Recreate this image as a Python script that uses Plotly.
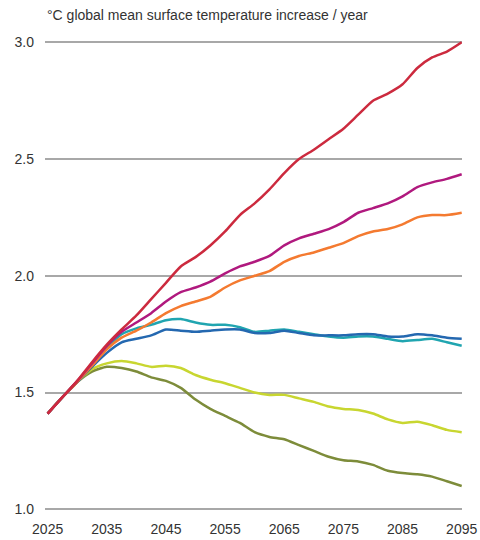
import plotly.graph_objects as go

# years sampled every 2.5 years
years = [2025 + 2.5 * i for i in range(29)]

red = [1.41, 1.48, 1.55, 1.63, 1.705, 1.77, 1.83, 1.90, 1.97, 2.04, 2.08, 2.13, 2.19, 2.26, 2.31,
       2.37, 2.44, 2.50, 2.54, 2.585, 2.63, 2.69, 2.75, 2.78, 2.82, 2.89, 2.935, 2.96, 3.0]
magenta = [1.41, 1.48, 1.55, 1.625, 1.70, 1.76, 1.80, 1.84, 1.89, 1.93, 1.95, 1.975, 2.01, 2.04, 2.06,
           2.085, 2.13, 2.16, 2.18, 2.20, 2.23, 2.27, 2.29, 2.31, 2.34, 2.38, 2.40, 2.415, 2.435]
orange = [1.41, 1.48, 1.545, 1.615, 1.685, 1.735, 1.765, 1.80, 1.84, 1.87, 1.89, 1.91, 1.95, 1.98, 2.00,
          2.02, 2.06, 2.085, 2.10, 2.12, 2.14, 2.17, 2.19, 2.20, 2.22, 2.25, 2.26, 2.26, 2.27]
teal = [1.41, 1.48, 1.545, 1.615, 1.69, 1.75, 1.775, 1.79, 1.81, 1.815, 1.80, 1.79, 1.79, 1.78, 1.76,
        1.765, 1.77, 1.76, 1.75, 1.74, 1.735, 1.74, 1.74, 1.73, 1.72, 1.725, 1.73, 1.715, 1.70]
blue = [1.41, 1.48, 1.545, 1.61, 1.67, 1.715, 1.73, 1.745, 1.77, 1.765, 1.76, 1.765, 1.77, 1.77, 1.755,
        1.755, 1.765, 1.755, 1.745, 1.745, 1.745, 1.75, 1.75, 1.74, 1.74, 1.75, 1.745, 1.735, 1.73]
lime = [1.41, 1.48, 1.545, 1.60, 1.625, 1.635, 1.625, 1.61, 1.615, 1.605, 1.575, 1.555, 1.54, 1.52, 1.50,
        1.49, 1.49, 1.475, 1.46, 1.44, 1.43, 1.425, 1.41, 1.385, 1.37, 1.375, 1.36, 1.34, 1.33]
olive = [1.41, 1.48, 1.545, 1.59, 1.61, 1.605, 1.59, 1.565, 1.55, 1.52, 1.47, 1.43, 1.40, 1.37, 1.33,
         1.31, 1.30, 1.275, 1.25, 1.225, 1.21, 1.205, 1.19, 1.165, 1.155, 1.15, 1.14, 1.12, 1.10]

series = [
    (olive, "#7d8c3a"),
    (lime, "#c8d630"),
    (teal, "#20a5b0"),
    (blue, "#2468b0"),
    (orange, "#f47a30"),
    (magenta, "#b0197e"),
    (red, "#cc2a3e"),
]

x_ticks = [2025, 2035, 2045, 2055, 2065, 2075, 2085, 2095]
y_ticks = [1.0, 1.5, 2.0, 2.5, 3.0]

fig = go.Figure()
for vals, col in series:
    fig.add_trace(go.Scatter(x=years, y=vals, mode="lines",
                             line=dict(color=col, width=2.5, shape="spline", smoothing=0.6),
                             showlegend=False, cliponaxis=False))

font = "Liberation Sans, Arial, sans-serif"
fig.update_layout(
    width=480, height=540,
    margin=dict(l=45, r=18, t=40, b=29, autoexpand=False),
    paper_bgcolor="white", plot_bgcolor="white",
    font=dict(family=font, size=14, color="#333333"),
    annotations=[dict(text="°C global mean surface temperature increase / year",
                      xref="paper", yref="paper", x=0, y=1, xanchor="left", yanchor="bottom",
                      yshift=15, showarrow=False, font=dict(size=14, color="#333333"))],
)
fig.update_xaxes(range=[2024.55, 2095.05], tickvals=x_ticks, showgrid=False, zeroline=False,
                 showline=False, ticks="", ticklabelstandoff=8, automargin=False)
fig.update_yaxes(range=[0.9927, 3.0098], tickvals=y_ticks, tickformat=".1f", showgrid=True,
                 gridcolor="#a8a8a8", gridwidth=1.5, zeroline=False, showline=False, ticks="",
                 ticklabelstandoff=10, automargin=False)

# drop the default 8px body margin so the figure fills the window exactly
fig.write_html("out.html", config={"displayModeBar": False},
               post_script="document.body.style.margin='0';")
